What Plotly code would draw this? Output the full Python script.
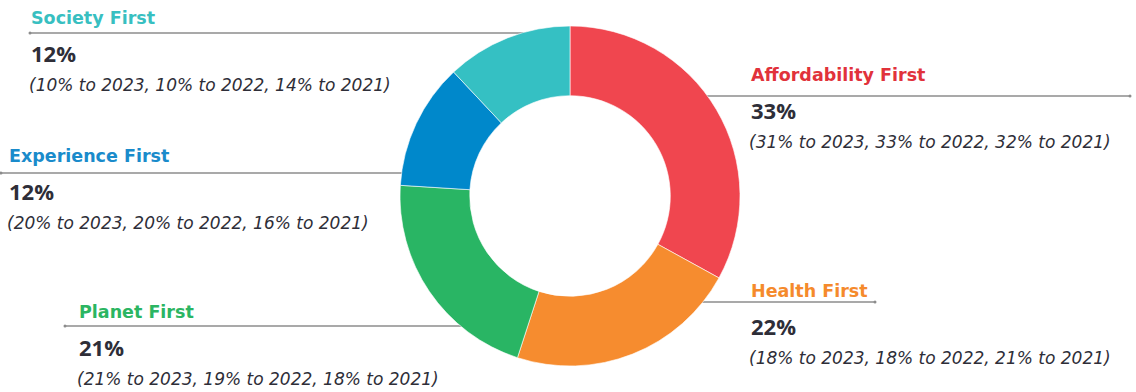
import plotly.graph_objects as go
import math

categories = ["Affordability First", "Health First", "Planet First", "Experience First", "Society First"]
values = [33, 22, 21, 12, 12]
pie_colors = ["#F0464F", "#F68C2F", "#29B564", "#0088CB", "#35C0C3"]
label_colors = ["#E1323B", "#F58A2C", "#2BB562", "#1A8BCB", "#38BFC1"]
pct_labels = ["33%", "22%", "21%", "12%", "12%"]
history = [
    "(31% to 2023, 33% to 2022, 32% to 2021)",
    "(18% to 2023, 18% to 2022, 21% to 2021)",
    "(21% to 2023, 19% to 2022, 18% to 2021)",
    "(20% to 2023, 20% to 2022, 16% to 2021)",
    "(10% to 2023, 10% to 2022, 14% to 2021)",
]

W, H = 1136, 392
cx, cy, R = 570, 196, 170

# label layout: (text x, title y, line y, line outer end x, side)
layout_pos = {
    "Affordability First": (750, 75, 96, 1130, "right"),
    "Health First": (750, 291, 302, 875, "right"),
    "Planet First": (78, 312, 326, 65, "left"),
    "Experience First": (8, 156, 173, 1, "left"),
    "Society First": (30, 18, 33, 30, "left"),
}

def px(x):
    return x / W

def py(y):
    return 1 - y / H

fig = go.Figure()
fig.add_trace(go.Pie(
    labels=categories, values=values, hole=0.59, sort=False, direction="clockwise",
    rotation=0, marker=dict(colors=pie_colors, line=dict(color="white", width=0.6)),
    textinfo="none", hoverinfo="label+percent", showlegend=False,
    domain=dict(x=[px(cx - R), px(cx + R)], y=[py(cy + R), py(cy - R)]),
))

shapes = []
annotations = []
for i, cat in enumerate(categories):
    tx, ty, ly, lend, side = layout_pos[cat]
    dy = ly - cy
    half = math.sqrt(max(R * R - dy * dy, 0))
    if side == "right":
        x0, x1 = cx + half - 6, lend
    else:
        x0, x1 = lend, cx - half + 6
    shapes.append(dict(type="line", xref="paper", yref="paper", layer="below",
                       x0=px(x0), x1=px(x1), y0=py(ly), y1=py(ly),
                       line=dict(color="#8C8C8C", width=1.3)))
    dot_x = x1 if side == "right" else x0
    shapes.append(dict(type="circle", xref="paper", yref="paper", layer="below",
                       x0=px(dot_x - 1.5), x1=px(dot_x + 1.5), y0=py(ly + 1.5), y1=py(ly - 1.5),
                       fillcolor="#8C8C8C", line=dict(width=0)))
    annotations.append(dict(text="<b>" + cat + "</b>", x=px(tx - 1), y=py(ty), xref="paper", yref="paper",
                            xanchor="left", yanchor="middle", showarrow=False,
                            font=dict(family="DejaVu Sans", size=17.5, color=label_colors[i])))
    annotations.append(dict(text="<b>" + pct_labels[i] + "</b>", x=px(tx - 1), y=py(ty + 35), xref="paper", yref="paper",
                            xanchor="left", yanchor="middle", showarrow=False,
                            font=dict(family="Open Sans", size=22, color="#2E2E38")))
    annotations.append(dict(text="<i>" + history[i] + "</i>", x=px(tx - 3), y=py(ty + 67), xref="paper", yref="paper",
                            xanchor="left", yanchor="middle", showarrow=False,
                            font=dict(family="DejaVu Sans", size=17, color="#2E2E38")))

fig.update_layout(width=W, height=H, margin=dict(l=0, r=0, t=0, b=0),
                  paper_bgcolor="white", plot_bgcolor="white",
                  shapes=shapes, annotations=annotations, showlegend=False)
fig.write_html("out.html")
